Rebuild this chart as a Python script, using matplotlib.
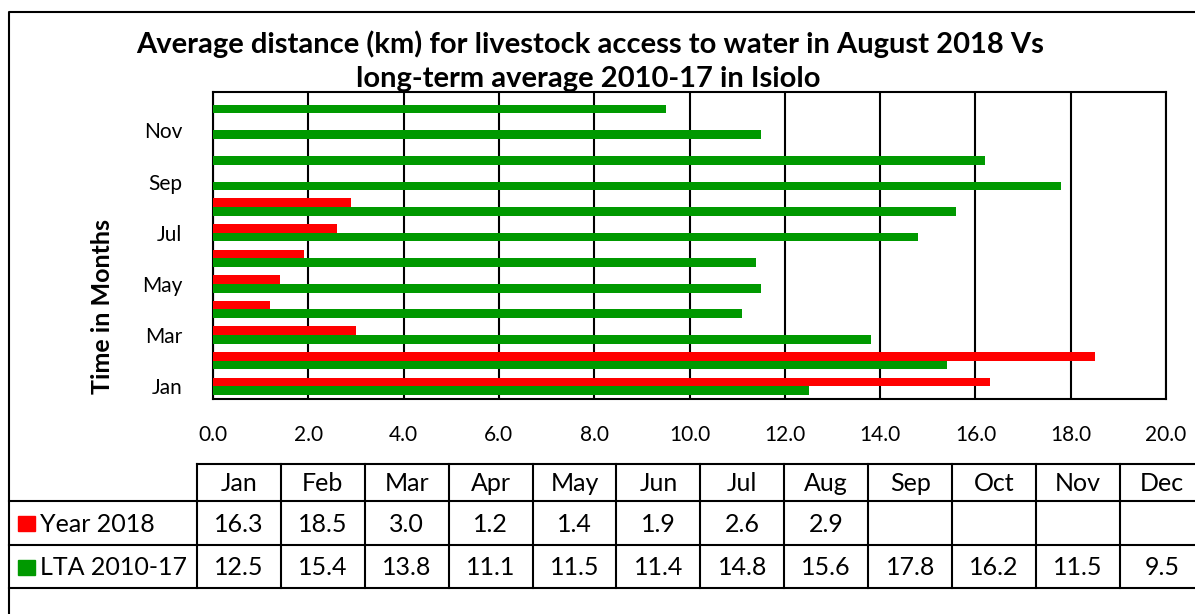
import matplotlib
matplotlib.use("Agg")
import matplotlib.pyplot as plt
import numpy as np

months = ["Jan", "Feb", "Mar", "Apr", "May", "Jun", "Jul", "Aug", "Sep", "Oct", "Nov", "Dec"]
year2018 = [16.3, 18.5, 3.0, 1.2, 1.4, 1.9, 2.6, 2.9, None, None, None, None]
lta = [12.5, 15.4, 13.8, 11.1, 11.5, 11.4, 14.8, 15.6, 17.8, 16.2, 11.5, 9.5]
series_names = ["Year 2018", "LTA 2010-17"]
series_colors = ["#FF0000", "#009900"]
xticks = [0, 2, 4, 6, 8, 10, 12, 14, 16, 18, 20]
title_lines = ["Average distance (km) for livestock access to water in August 2018 Vs",
               "long-term average 2010-17 in Isiolo"]
ylabel = "Time in Months"

FONT = "Lato"
W, H = 1195, 614
fig = plt.figure(figsize=(W / 100, H / 100), dpi=100)

# background overlay axes in pixel coordinates
bg = fig.add_axes([0, 0, 1, 1])
bg.set_xlim(0, W)
bg.set_ylim(H, 0)
bg.axis("off")

# outer chart border
bg.plot([9, 9, W + 10], [H + 10, 12, 12], color="black", lw=1.5)

# main axes
L, R, T, B = 213, 1166, 92, 399
ax = fig.add_axes([L / W, (H - B) / H, (R - L) / W, (B - T) / H])
y = np.arange(len(months))
h = 0.34
v18 = np.array([np.nan if v is None else v for v in year2018])
ax.barh(y + h / 2, v18, height=h, color=series_colors[0], zorder=3)
ax.barh(y - h / 2, lta, height=h, color=series_colors[1], zorder=3)
ax.set_xlim(0, 20)
ax.set_ylim(-0.5, len(months) - 0.5)
ax.set_xticks(xticks)
ax.set_xticklabels([f"{v:.1f}" for v in xticks], fontsize=15, family=FONT)
ax.set_yticks(y[::2])
ax.set_yticklabels(months[::2], fontsize=15, family=FONT)
ax.tick_params(axis="both", length=0)
ax.tick_params(axis="x", pad=19)
ax.tick_params(axis="y", pad=22)
ax.grid(axis="x", color="black", lw=1.5, zorder=1)
for s in ax.spines.values():
    s.set_color("black")
    s.set_linewidth(1.5)

fig.text(590 / W, 1 - 44 / H, title_lines[0], ha="center", va="center", fontsize=21,
         fontweight="bold", family=FONT)
fig.text(588 / W, 1 - 79 / H, title_lines[1], ha="center", va="center", fontsize=21,
         fontweight="bold", family=FONT)
fig.text(103 / W, 1 - 307 / H, ylabel, rotation=90, ha="center", va="center",
         fontsize=18, fontweight="bold", family=FONT)

# data table
x0, cw = 197, 83.9
rows_y = [464, 501, 545, 588]
right = x0 + cw * len(months)
lw = 1.5
bg.plot([x0, right], [rows_y[0], rows_y[0]], color="black", lw=lw)
for yy in rows_y[1:]:
    bg.plot([9, right], [yy, yy], color="black", lw=lw)
for i in range(len(months) + 1):
    xx = x0 + cw * i
    bg.plot([xx, xx], [rows_y[0], rows_y[3]], color="black", lw=lw)
tfs = 18
for i, m in enumerate(months):
    cx = x0 + cw * (i + 0.5)
    bg.text(cx, (rows_y[0] + rows_y[1]) / 2 + 1, m, ha="center", va="center", fontsize=tfs, family=FONT)
    if year2018[i] is not None:
        bg.text(cx, (rows_y[1] + rows_y[2]) / 2 + 1, f"{year2018[i]:.1f}", ha="center", va="center",
                fontsize=tfs, family=FONT)
    bg.text(cx, (rows_y[2] + rows_y[3]) / 2 + 1, f"{lta[i]:.1f}", ha="center", va="center",
            fontsize=tfs, family=FONT)
for r, (name, col) in enumerate(zip(series_names, series_colors)):
    cy = (rows_y[r + 1] + rows_y[r + 2]) / 2 + 1
    bg.add_patch(plt.Rectangle((18, cy - 8), 17, 15, color=col))
    bg.text(40, cy, name, ha="left", va="center", fontsize=tfs, family=FONT)

fig.savefig("out.png", dpi=100)
